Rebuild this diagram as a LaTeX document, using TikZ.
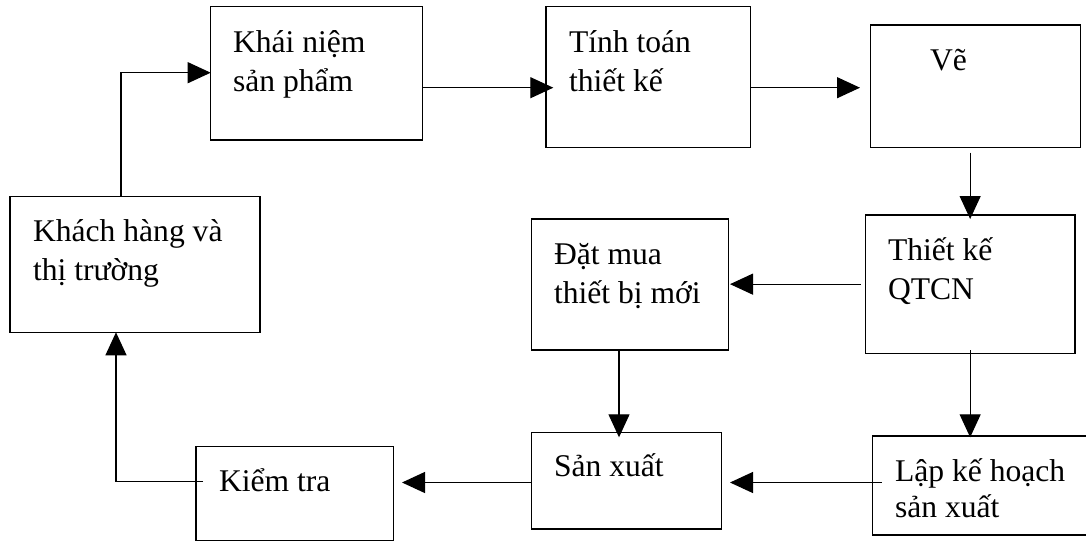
\documentclass[tikz,border=0pt]{standalone}
\usepackage{fontspec}
\setmainfont{Liberation Serif}
\usetikzlibrary{arrows.meta,calc}
\begin{document}
\begin{tikzpicture}[x=1pt,y=-1pt,
  box/.style={draw=black,line width=1.2pt,rectangle,inner sep=0pt,outer sep=0pt,anchor=north west},
  txt/.style={inner sep=0pt,outer sep=0pt,anchor=base west,align=left,font=\fontsize{31.6}{39}\selectfont},
  arr/.style={draw=black,line width=1.2pt,-{Triangle[length=23pt,width=21pt]}},
  ln/.style={draw=black,line width=1.2pt}]
\useasboundingbox[fill=white] (0,0) rectangle (1086,541);

% boxes
\node[box,minimum width=211.6pt,minimum height=133.3pt] (b1) at (210.7,6.7) {};
\node[box,minimum width=204.7pt,minimum height=140.6pt] (b2) at (546,6.7) {};
\node[box,minimum width=210pt,minimum height=122.3pt] (b3) at (870.7,25) {};
\node[box,minimum width=250pt,minimum height=135.6pt] (b4) at (10,196.7) {};
\node[box,minimum width=197pt,minimum height=131pt] (b5) at (531.7,219) {};
\node[box,minimum width=209.7pt,minimum height=138.3pt] (b6) at (865.3,215) {};
\node[box,minimum width=190pt,minimum height=96.7pt] (b7) at (531.7,432.3) {};
\node[box,minimum width=197.3pt,minimum height=94pt] (b8) at (196,446.7) {};
\node[box,minimum width=218pt,minimum height=99pt] (b9) at (872.7,436) {};

% texts (anchor = baseline of the last line)
\node[txt] (t1) at (233,91.7) {Khái niệm\\sản phẩm};
\node[txt] (t2) at (569,91) {Tính toán\\thiết kế};
\node[txt] (t3) at (930,70) {Vẽ};
\node[txt] (t4) at (33,280) {Khách hàng và\\thị trường};
\node[txt] (t5) at (554,303) {Đặt mua\\thiết bị mới};
\node[txt] (t6) at (888,299) {Thiết kế\\QTCN};
\node[txt] (t7) at (554,476.7) {Sản xuất};
\node[txt] (t8) at (219,491.7) {Kiểm tra};
\node[txt,font=\fontsize{31.6}{35.6}\selectfont] (t9) at (895,517.3) {Lập kế hoạch\\sản xuất};

% bend / level points
\coordinate (c41) at (121,72.7);
\coordinate (c12) at (0,87.7);
\coordinate (c57) at (619,0);
\coordinate (c97) at (0,482.5);
\coordinate (c84) at (116,481.7);

% connectors
\draw[arr] (b4.north -| c41) -- (c41) -- (b1.west |- c41);
\draw[arr] (b1.east |- c12) -- ($(b2.west |- c12)+(7.3,0)$);
\draw[arr] (b2.east |- c12) -- ($(b3.west |- c12)+(-10.7,0)$);
\draw[arr] ($(b3.south -| b6.north)+(0,5.4)$) -- ($(b6.north)+(0,4)$);
\draw[arr] ($(b6.west)+(-4.6,0)$) -- ($(b5.east |- b6.west)+(1.3,0)$);
\draw[arr] ($(b5.south -| c57)$) -- ($(b7.north -| c57)+(0,5)$);
\draw[arr] ($(b6.south)+(0,-3)$) -- ($(b9.north -| b6.south)+(0,1.3)$);
\draw[arr] ($(b9.west |- c97)+(9,0)$) -- ($(b7.east |- c97)+(8.3,0)$);
\draw[arr] (b7.west |- c97) -- ($(b8.east |- c97)+(8.7,0)$);
\draw[arr] ($(b8.west |- c84)+(7,0)$) -- (c84) -- (b4.south -| c84);
\end{tikzpicture}
\end{document}
